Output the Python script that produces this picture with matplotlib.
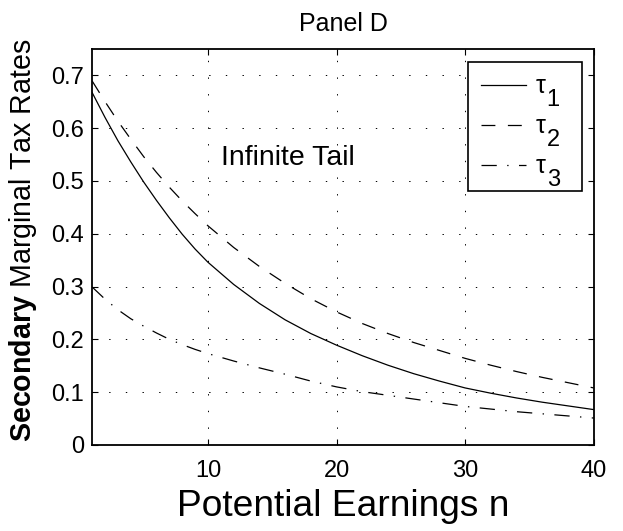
import matplotlib
matplotlib.use("Agg")
import matplotlib.pyplot as plt
from matplotlib.transforms import IdentityTransform

plt.rcParams['font.family'] = ['Liberation Sans', 'DejaVu Sans']
plt.rcParams['mathtext.fontset'] = 'custom'
plt.rcParams['mathtext.rm'] = 'Liberation Sans'
plt.rcParams['mathtext.it'] = 'Liberation Sans'
plt.rcParams['mathtext.bf'] = 'Liberation Sans:bold'
plt.rcParams['lines.scale_dashes'] = False

# values
n = [1, 2, 3, 4, 5, 6, 7, 8, 9, 10, 12, 14, 16, 18, 20,
     22, 24, 26, 28, 30, 32, 34, 36, 38, 40]
tau1 = [0.667, 0.620, 0.576, 0.536, 0.498, 0.463, 0.430, 0.399, 0.371, 0.346,
        0.304, 0.268, 0.237, 0.211, 0.189, 0.169, 0.151, 0.135, 0.121, 0.108,
        0.098, 0.089, 0.081, 0.074, 0.067]
tau2 = [0.689, 0.650, 0.613, 0.579, 0.546, 0.516, 0.488, 0.462, 0.438, 0.415,
        0.374, 0.338, 0.306, 0.277, 0.252, 0.230, 0.211, 0.194, 0.179, 0.164,
        0.151, 0.139, 0.128, 0.118, 0.108]
tau3 = [0.299, 0.276, 0.256, 0.239, 0.225, 0.212, 0.200, 0.190, 0.181, 0.173,
        0.159, 0.146, 0.134, 0.121, 0.110, 0.101, 0.094, 0.087, 0.080, 0.073,
        0.068, 0.063, 0.059, 0.055, 0.051]
subs = ['1', '2', '3']
xticks = [10, 20, 30, 40]
yticks = [0, 0.1, 0.2, 0.3, 0.4, 0.5, 0.6, 0.7]
yticklabels = ['0', '0.1', '0.2', '0.3', '0.4', '0.5', '0.6', '0.7']

fig = plt.figure(figsize=(6.23, 5.31), dpi=100)
ax = fig.add_axes([0.148, 0.162, 0.805, 0.746])

ax.plot(n, tau1, color='k', lw=0.9, label='τ')
ax.plot(n, tau2, color='k', lw=0.9, dashes=(10, 9), label='τ')
ax.plot(n, tau3, color='k', lw=0.9, dashes=(11, 7.5, 1, 7.5), label='τ')

ax.set_xlim(1, 40)
ax.set_ylim(0, 0.75)
ax.set_xticks(xticks)
ax.set_yticks(yticks)
ax.set_yticklabels(yticklabels)
ax.tick_params(direction='in', top=True, right=True, length=4, width=0.8,
               labelsize=17)
ax.tick_params(axis='x', pad=11)
ax.tick_params(axis='y', pad=6)
ax.grid(True, color='k', lw=0.7, linestyle=(0, (1, 11)))
for s in ax.spines.values():
    s.set_linewidth(1.3)

ax.set_title('Panel D', fontsize=18, pad=13)
ax.set_xlabel('Potential Earnings n', fontsize=26.7, labelpad=4.5)
ax.set_ylabel(r'$\bf{Secondary}$ Marginal Tax Rates', fontsize=20.6)
ax.yaxis.set_label_coords(-0.106, 0.516)
ax.text(16.2, 0.543, 'Infinite Tail', fontsize=20.5, ha='center', va='center')

# legend box stretched to the reference width
leg = ax.legend(loc='upper right', bbox_to_anchor=(0.750, 0.5, 0.227, 0.467),
                mode='expand', fontsize=18, fancybox=False, framealpha=1,
                edgecolor='k', handlelength=1.8, borderaxespad=0,
                labelspacing=0.64, handletextpad=0.4, borderpad=0.5)
leg.get_frame().set_linewidth(1.2)

# MATLAB-style large subscripts next to the tau in each legend entry
fig.canvas.draw()
r = fig.canvas.get_renderer()
for t, s in zip(leg.get_texts(), subs):
    bb = t.get_window_extent(r)
    _, _, d = r.get_text_width_height_descent('lp', t.get_fontproperties(), ismath=False)
    base = bb.y0 + d + 4
    fig.text(bb.x1 + 1, base - 17, s, fontsize=17,
             transform=IdentityTransform(), va='baseline', ha='left')

fig.savefig('out.png', dpi=100)
